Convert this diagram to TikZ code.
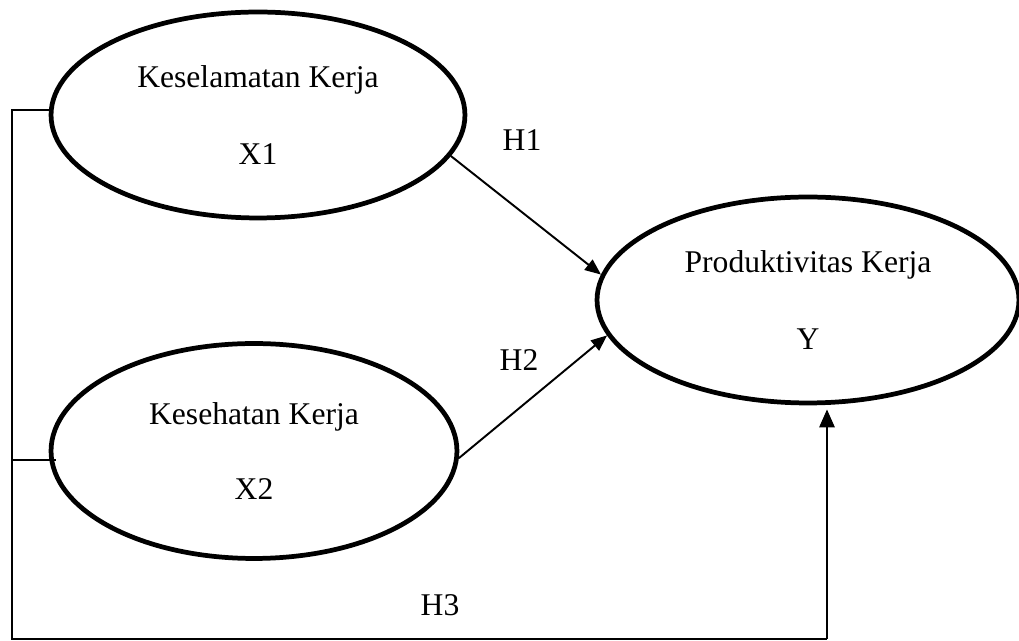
\documentclass[tikz,border=0pt]{standalone}
\usepackage{fontspec}
\setmainfont{Liberation Serif}
\usetikzlibrary{calc,shapes.geometric,arrows.meta}
\tikzset{
	var/.style={draw=black, line width=2.7pt, ellipse, inner sep=0pt, align=center},
	link/.style={draw=black, line width=1.1pt},
	lead/.style={link, -{Triangle[length=0.32cm,width=0.26cm]}}
}
\begin{document}
\begin{tikzpicture}[x=0.02cm, y=-0.02cm, font=\fontsize{18}{21}\selectfont]
				\useasboundingbox (0,0) rectangle (1019,641);
				
				\node[var, minimum width=8.28cm, minimum height=4.12cm] (x1) at (258,115) {Keselamatan Kerja\\[0.8cm]X1};
				\node[var, minimum width=8.12cm, minimum height=4.3cm] (x2) at (254,451) {Kesehatan Kerja\\[0.75cm]X2};
				\node[var, minimum width=8.44cm, minimum height=4.12cm] (y) at (808,300) {Produktivitas Kerja\\[0.8cm]Y};
				
				\node (h1) at (522,140) {H1};
				\node (h2) at (519,360) {H2};
				\node (h3) at (440,605) {H3};
				
				\draw[lead] (x1.-12.7) -- (y.173.6);
				\draw[lead] (x2.-2.8) -- (y.-170.7);
				
				\coordinate (lt) at (12,110);
				\coordinate (lm) at (12,460);
				\coordinate (lb) at (12,639);
				\coordinate (rb) at (827,639);
				\draw[link, line width=0.9pt] (x1.west |- lt) -- (lt) -- (lb) -- (rb);
				\draw[link, line width=0.9pt] (lm) -- ($(x2.west |- lm)+(7,0)$);
				\draw[lead, line width=1.6pt, -{Triangle[length=0.36cm,width=0.3cm]}] (rb) -- ($(rb |- y.south)+(0,4)$);
			\end{tikzpicture}
\end{document}
